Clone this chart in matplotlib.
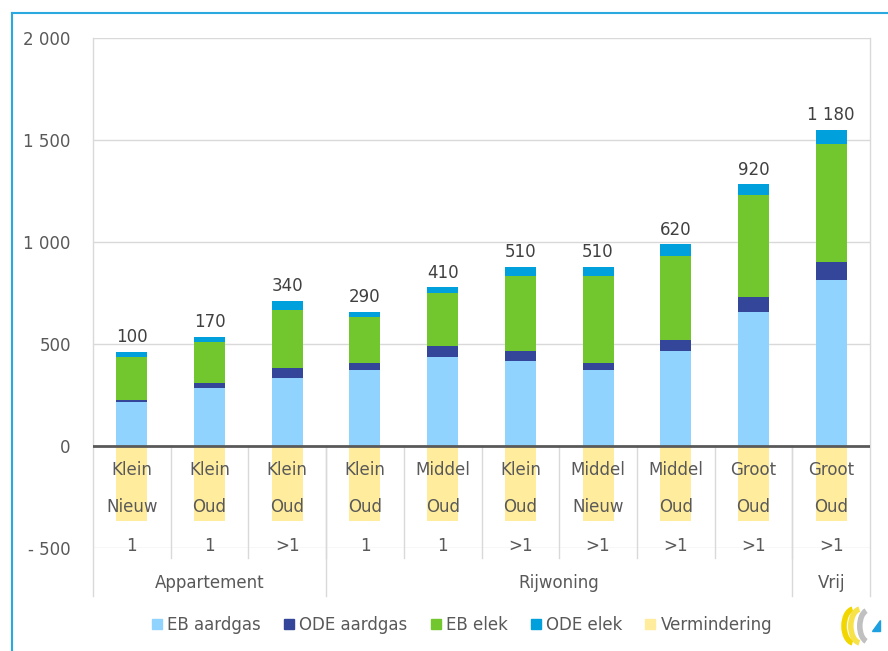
import matplotlib.pyplot as plt
import numpy as np
from matplotlib.lines import Line2D
from matplotlib.patches import Patch, Arc, Polygon

# Data
size = ['Klein', 'Klein', 'Klein', 'Klein', 'Middel', 'Klein', 'Middel', 'Middel', 'Groot', 'Groot']
age = ['Nieuw', 'Oud', 'Oud', 'Oud', 'Oud', 'Oud', 'Nieuw', 'Oud', 'Oud', 'Oud']
units = ['1', '1', '>1', '1', '1', '>1', '>1', '>1', '>1', '>1']
groups = ['Appartement', 'Rijwoning', 'Vrij']
group_sizes = [3, 6, 1]

eb_gas = [216, 283, 335, 373, 438, 417, 373, 466, 658, 814]
ode_gas = [9, 24, 46, 35, 52, 49, 35, 54, 74, 89]
eb_elek = [213, 204, 286, 223, 261, 367, 425, 413, 497, 576]
ode_elek = [24, 25, 45, 27, 27, 46, 46, 56, 53, 70]
vermindering = [-370, -370, -370, -370, -370, -370, -370, -370, -370, -370]
net_labels = ['100', '170', '340', '290', '410', '510', '510', '620', '920', '1 180']

colors = {'EB aardgas': '#8FD3FE', 'ODE aardgas': '#33469A', 'EB elek': '#72C62E',
          'ODE elek': '#00A0DC', 'Vermindering': '#FFEC9C'}
txt = '#595959'
grid = '#D9D9D9'

plt.rcParams['font.family'] = ['DejaVu Sans']

fig = plt.figure(figsize=(8.88, 6.51), dpi=100)
W, H = 888, 651
ax = fig.add_axes([93 / W, 1 - 548 / H, (870 - 93) / W, (548 - 38) / H])

x = np.arange(len(eb_gas))
bw = 0.4

# stacked bars
series = [('EB aardgas', eb_gas), ('ODE aardgas', ode_gas), ('EB elek', eb_elek), ('ODE elek', ode_elek)]
bottom = np.zeros(len(x))
for name, vals in series:
    ax.bar(x, vals, bw, bottom=bottom, color=colors[name], zorder=2)
    bottom += np.array(vals)
ax.bar(x, vermindering, bw, color=colors['Vermindering'], zorder=2)

# total labels
for xi, top, lab in zip(x, bottom, net_labels):
    ax.annotate(lab, (xi, top), xytext=(0, 4), textcoords='offset points',
                ha='center', va='bottom', fontsize=12, color='#404040')

ax.set_xlim(-0.5, len(x) - 0.5)
ax.set_ylim(-500, 2000)
ax.set_yticks([-500, 0, 500, 1000, 1500, 2000])
ax.set_yticklabels(['- 500', '0', '500', '1 000', '1 500', '2 000'])
ax.tick_params(axis='y', length=0, pad=16, labelsize=12, labelcolor=txt)
ax.set_xticks([])
for s in ax.spines.values():
    s.set_visible(False)
for yv in [-500, 500, 1000, 1500, 2000]:
    ax.axhline(yv, color=grid, lw=1, zorder=1)
ax.axhline(0, color='#595959', lw=2, zorder=3)

# category labels inside the plot area
for xi in x:
    ax.text(xi, -118, size[xi], ha='center', va='center', fontsize=12, color=txt, zorder=4)
    ax.text(xi, -299, age[xi], ha='center', va='center', fontsize=12, color=txt, zorder=4)
    ax.text(xi, -490, units[xi], ha='center', va='center', fontsize=12, color=txt, zorder=4)

# separators
short_end = -550
long_end = -735
for b in np.arange(0.5, len(x) - 1, 1.0):
    ax.add_line(Line2D([b, b], [0, short_end], color=grid, lw=1, clip_on=False, zorder=1))
edges = np.concatenate([[0], np.cumsum(group_sizes)]) - 0.5
for e in edges:
    ax.add_line(Line2D([e, e], [2000 if e in (edges[0], edges[-1]) else 0, long_end],
                       color=grid, lw=1, clip_on=False, zorder=1))
for g, lo, hi in zip(groups, edges[:-1], edges[1:]):
    ax.text((lo + hi) / 2, -672, g, ha='center', va='center', fontsize=12,
            color=txt, clip_on=False)

# legend
handles = [Patch(color=colors[k]) for k in colors]
fig.legend(handles, list(colors), loc='center', bbox_to_anchor=(462 / W, 1 - 625 / H),
           ncol=5, frameon=False, fontsize=12, handlelength=0.6, handleheight=0.6,
           handletextpad=0.3, columnspacing=1.4, labelcolor=txt)

# frame border (blue, top and left)
fig.add_artist(Line2D([12 / W, 12 / W], [0, 1 - 13 / H], color='#29A9E0', lw=1.5))
fig.add_artist(Line2D([12 / W, 1], [1 - 13 / H, 1 - 13 / H], color='#29A9E0', lw=1.5))

# small logo
lax = fig.add_axes([840 / W, 1 - 646 / H, 44 / W, 40 / H])
lax.set_xlim(0, 1.1)
lax.set_ylim(0, 1)
lax.axis('off')
lax.add_patch(Arc((0.35, 0.5), 0.5, 0.85, theta1=95, theta2=265, color='#F2D600', lw=4))
lax.add_patch(Arc((0.52, 0.5), 0.5, 0.85, theta1=95, theta2=265, color='#F7E24A', lw=4))
lax.add_patch(Arc((0.72, 0.5), 0.45, 0.8, theta1=100, theta2=260, color='#C0C0C0', lw=4))
lax.add_patch(Polygon([[0.8, 0.38], [1.0, 0.38], [1.0, 0.66]], color='#1E9FE0'))

fig.savefig('out.png', dpi=100)
